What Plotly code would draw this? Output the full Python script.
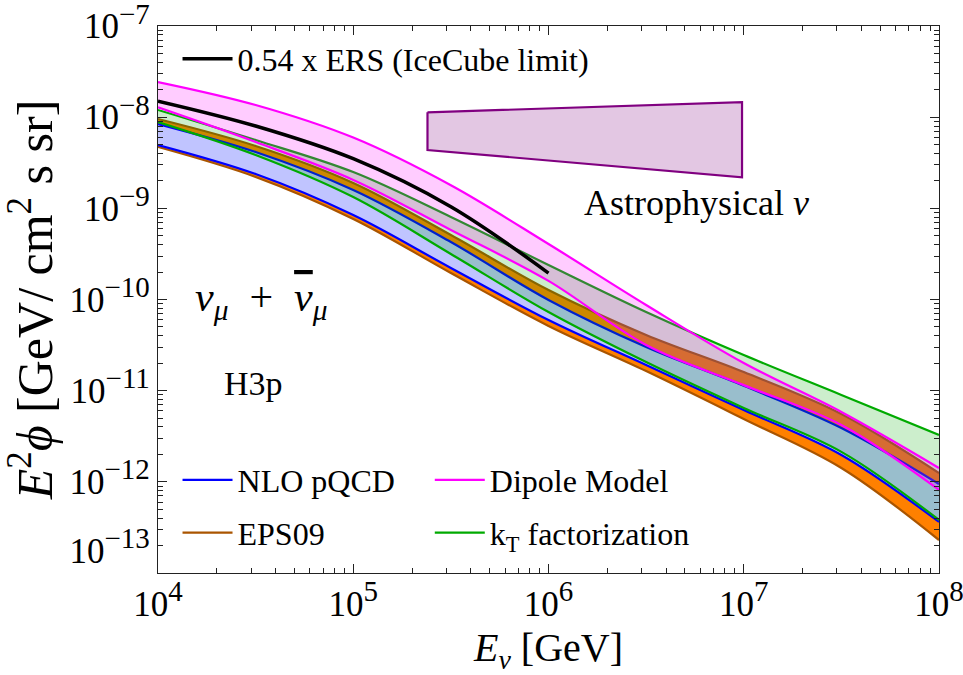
import plotly.graph_objects as go

# ---------------- data ----------------
E = [1e4, 3.162e4, 1e5, 3.162e5, 1e6, 3.162e6, 1e7, 3.162e7, 1e8]
E_ers = [1e4, 3.162e4, 1e5, 3.162e5, 1e6]

ers = [1.50e-8, 8.0e-9, 3.5e-9, 1.04e-9, 1.95e-10]

dipole_up = [2.43e-8, 1.36e-8, 5.97e-9, 1.79e-9, 4.06e-10, 8.71e-11, 2.01e-11, 5.84e-12, 1.42e-12]
dipole_lo = [1.28e-8, 5.34e-9, 2.05e-9, 5.79e-10, 1.60e-10, 3.17e-11, 1.15e-11, 4.20e-12, 8.14e-13]

kt_up = [1.20e-8, 5.62e-9, 2.50e-9, 8.04e-10, 2.39e-10, 7.29e-11, 2.46e-11, 8.97e-12, 3.27e-12]
kt_lo = [8.85e-9, 3.85e-9, 1.33e-9, 3.16e-10, 7.29e-11, 2.06e-11, 6.46e-12, 2.13e-12, 3.82e-13]

eps_up = [9.55e-9, 4.83e-9, 1.90e-9, 5.10e-10, 1.27e-10, 4.08e-11, 1.60e-11, 5.55e-12, 1.25e-12]
eps_lo = [4.71e-9, 2.21e-9, 7.64e-10, 1.95e-10, 5.12e-11, 1.64e-11, 4.89e-12, 1.42e-12, 2.30e-13]

nlo_up = [8.41e-9, 4.15e-9, 1.59e-9, 4.27e-10, 9.88e-11, 3.01e-11, 1.13e-11, 3.90e-12, 9.47e-13]
nlo_lo = [4.95e-9, 2.38e-9, 8.45e-10, 2.22e-10, 5.96e-11, 1.91e-11, 6.14e-12, 1.97e-12, 3.63e-13]

astro_E = [2.4e5, 9.8e6, 9.8e6, 2.4e5, 2.4e5]
astro_flux = [1.13e-8, 1.46e-8, 2.19e-9, 4.36e-9, 1.13e-8]

SUP = "<sup><span style=\"font-size:29px\">{}</span></sup>"
x_ticks = [1e4, 1e5, 1e6, 1e7, 1e8]
x_ticktext = ["10" + SUP.format(p) for p in ["4", "5", "6", "7", "8"]]
y_ticks = [1e-7, 1e-8, 1e-9, 1e-10, 1e-11, 1e-12, 1e-13]
y_ticktext = ["10" + SUP.format("\u2212" + p) for p in ["7", "8", "9", "10", "11", "12"]] + \
             ["10" + SUP.format("\u221213") + "<br> "]

# ---------------- styles ----------------
FONT = "Liberation Serif"
C_EPS_LINE = "rgb(170,85,0)"
C_EPS_FILL = "rgb(255,128,0)"
C_NLO_LINE = "rgb(0,0,255)"
C_NLO_FILL = "rgb(192,196,255)"
C_KT_LINE = "rgb(0,170,0)"
C_KT_FILL = "rgba(0,170,0,0.2)"
C_DIP_LINE = "rgb(255,0,255)"
C_DIP_FILL = "rgba(255,0,255,0.2)"

fig = go.Figure()


def band(lo, hi, fillcolor):
    fig.add_trace(go.Scatter(x=E, y=lo, mode="lines", line=dict(width=0, shape="spline"),
                             showlegend=False, hoverinfo="skip"))
    fig.add_trace(go.Scatter(x=E, y=hi, mode="lines", line=dict(width=0, shape="spline"),
                             fill="tonexty", fillcolor=fillcolor, showlegend=False, hoverinfo="skip"))


def edge(vals, color, name=None, legend=None, rank=1000, width=2.2):
    fig.add_trace(go.Scatter(x=E, y=vals, mode="lines", line=dict(color=color, width=width, shape="spline"),
                             name=name or "", showlegend=name is not None,
                             legend=legend, legendrank=rank, legendgroup=name))


# EPS09
band(eps_lo, eps_up, C_EPS_FILL)
edge(eps_lo, C_EPS_LINE)
edge(eps_up, C_EPS_LINE, "EPS09", "legend2", 2)
# NLO pQCD
band(nlo_lo, nlo_up, C_NLO_FILL)
edge(nlo_lo, C_NLO_LINE)
edge(nlo_up, C_NLO_LINE, "NLO pQCD", "legend2", 1)
# kT factorization
band(kt_lo, kt_up, C_KT_FILL)
edge(kt_lo, C_KT_LINE)
edge(kt_up, C_KT_LINE, "k<sub>T</sub> factorization", "legend3", 2)
# Dipole model
band(dipole_lo, dipole_up, C_DIP_FILL)
edge(dipole_lo, C_DIP_LINE)
edge(dipole_up, C_DIP_LINE, "Dipole Model", "legend3", 1)

# ERS
fig.add_trace(go.Scatter(x=E_ers, y=ers, mode="lines", line=dict(color="black", width=3.5, shape="spline"),
                         name="0.54 x ERS (IceCube limit)", legend="legend"))

# Astrophysical box
fig.add_trace(go.Scatter(x=astro_E, y=astro_flux, mode="lines", fill="toself",
                         fillcolor="rgba(128,0,128,0.22)", line=dict(color="rgb(128,0,128)", width=2.2),
                         showlegend=False, hoverinfo="skip"))

axis_common = dict(type="log", showgrid=False, zeroline=False, showline=True, linecolor="#222",
                   linewidth=1.3, mirror="allticks", ticks="inside", ticklen=9, tickwidth=1.2,
                   tickcolor="#222", automargin=False, ticklabeloverflow="allow",
                   minor=dict(ticks="inside", ticklen=5, tickwidth=1, tickcolor="#222", dtick="D1", showgrid=False),
                   tickfont=dict(family=FONT, size=35, color="black"))

fig.update_xaxes(**axis_common, range=[4, 8], tickvals=x_ticks, ticktext=x_ticktext,
                 title=dict(text="<i>E</i><sub><i>\u03bd</i></sub> [GeV]", font=dict(family=FONT, size=40),
                            standoff=10))
fig.update_yaxes(**axis_common, range=[-13, -7], tickvals=y_ticks, ticktext=y_ticktext,
                 title=dict(text="<i>E</i><sup>2</sup><i>\u03d5</i> [GeV/ cm<sup>2</sup> s sr]",
                            font=dict(family=FONT, size=50), standoff=0))

leg_common = dict(font=dict(family=FONT, size=32, color="black"), bgcolor="rgba(0,0,0,0)",
                  borderwidth=0, itemwidth=50, traceorder="grouped", tracegroupgap=8,
                  xanchor="left", yanchor="top")

fig.update_layout(
    width=963, height=675,
    margin=dict(l=158, r=24, t=26, b=102),
    plot_bgcolor="white", paper_bgcolor="white",
    font=dict(family=FONT, color="black"),
    legend=dict(**leg_common, x=0.025, y=0.99),
    legend2=dict(**leg_common, x=0.025, y=0.22),
    legend3=dict(**leg_common, x=0.348, y=0.22),
    annotations=[
        dict(x=6.76, y=-8.94, xref="x", yref="y", text="Astrophysical <i>\u03bd</i>", showarrow=False,
             font=dict(family=FONT, size=36)),
        dict(x=4.179, y=-10.0, xref="x", yref="y", xanchor="left",
             text="<i>\u03bd</i><sub><i>\u03bc</i></sub>\u2002+\u2002"
                  "<span style=\"text-decoration:overline\"><i>\u03bd</i></span><sub><i>\u03bc</i></sub>",
             showarrow=False, font=dict(family=FONT, size=42)),
        dict(x=4.328, y=-10.916, xref="x", yref="y", xanchor="left", text="H3p", showarrow=False,
             font=dict(family=FONT, size=34)),
    ],
)

fig.write_html("out.html")
